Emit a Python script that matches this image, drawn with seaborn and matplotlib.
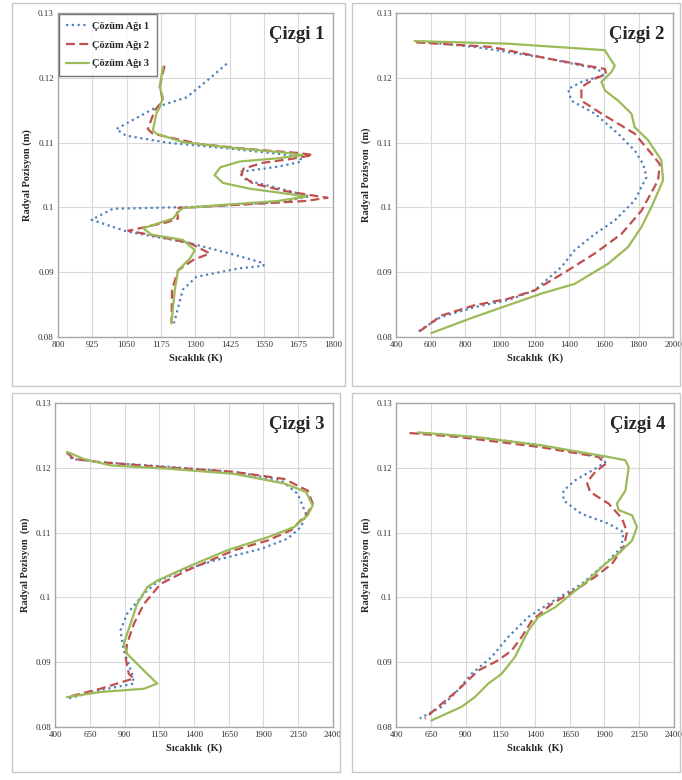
import pandas as pd
import matplotlib.pyplot as plt
from matplotlib.patches import Rectangle
import seaborn as sns

# ==========================================================
# Data
# ==========================================================

SERIES = ["Çözüm Ağı 1", "Çözüm Ağı 2", "Çözüm Ağı 3"]
COLORS = ["#4F81BD", "#C0504D", "#9BBB59"]

# Çizgi 1
P1_T1 = [1414, 1340, 1267, 1158, 1050, 1012, 1048, 1200, 1400, 1600, 1679, 1687, 1600,
         1461, 1486, 1600, 1716, 1600, 1300, 1000, 922, 1050, 1280, 1450, 1548, 1548,
         1460, 1304, 1254, 1225, 1222]
P1_R1 = [0.1222, 0.1195, 0.1170, 0.1155, 0.1130, 0.1121, 0.1111, 0.1100, 0.1092, 0.1083,
         0.1078, 0.1071, 0.1063, 0.1055, 0.1042, 0.1030, 0.1017, 0.1008, 0.1001, 0.0998,
         0.0981, 0.0963, 0.0945, 0.0926, 0.0914, 0.0910, 0.0906, 0.0893, 0.0873, 0.0826,
         0.0821]
P1_T2 = [1188, 1170, 1182, 1152, 1127, 1145, 1315, 1500, 1680, 1727, 1650, 1545, 1475,
         1467, 1510, 1631, 1781, 1700, 1450, 1231, 1237, 1195, 1056, 1134, 1280, 1352,
         1292, 1237, 1215, 1213]
P1_R2 = [0.1219, 0.1186, 0.1165, 0.1150, 0.1121, 0.1114, 0.1098, 0.1090, 0.1084, 0.1081,
         0.1075, 0.1069, 0.1060, 0.1050, 0.1037, 0.1025, 0.1015, 0.1010, 0.1004, 0.0999,
         0.0983, 0.0977, 0.0964, 0.0958, 0.0945, 0.0929, 0.0919, 0.0903, 0.0873, 0.0821]
P1_T3 = [1182, 1170, 1182, 1170, 1158, 1145, 1158, 1255, 1436, 1620, 1691, 1600, 1461,
         1390, 1370, 1400, 1498, 1620, 1704, 1600, 1400, 1254, 1237, 1219, 1110, 1140,
         1254, 1298, 1280, 1237, 1225, 1213]
P1_R3 = [0.1217, 0.1186, 0.1170, 0.1155, 0.1145, 0.1119, 0.1114, 0.1101, 0.1092, 0.1085,
         0.1081, 0.1076, 0.1071, 0.1062, 0.1050, 0.1038, 0.1029, 0.1022, 0.1017, 0.1010,
         0.1004, 0.0999, 0.0993, 0.0983, 0.0968, 0.0958, 0.0950, 0.0934, 0.0921, 0.0903,
         0.0873, 0.0821]

# Çizgi 2
P2_T1 = [516, 853, 1239, 1566, 1595, 1471, 1393, 1412, 1547, 1682, 1778, 1827, 1846,
         1778, 1663, 1547, 1431, 1354, 1200, 1046, 853, 660, 564, 516]
P2_R1 = [0.1257, 0.1248, 0.1232, 0.1214, 0.1204, 0.1194, 0.1183, 0.1165, 0.1145, 0.1114,
         0.1088, 0.1067, 0.1047, 0.1011, 0.0980, 0.0959, 0.0934, 0.0908, 0.0872, 0.0857,
         0.0846, 0.0831, 0.0815, 0.0806]
P2_T2 = [516, 949, 1277, 1605, 1614, 1547, 1470, 1470, 1586, 1778, 1875, 1923, 1913,
         1817, 1701, 1547, 1393, 1200, 1046, 853, 660, 516]
P2_R2 = [0.1255, 0.1248, 0.1230, 0.1214, 0.1206, 0.1199, 0.1186, 0.1165, 0.1145, 0.1114,
         0.1083, 0.1067, 0.1042, 0.0995, 0.0959, 0.0929, 0.0903, 0.0872, 0.0859, 0.0849,
         0.0833, 0.0805]
P2_T3 = [506, 1046, 1605, 1624, 1663, 1643, 1586, 1605, 1682, 1759, 1778, 1855, 1932,
         1942, 1875, 1817, 1740, 1624, 1431, 1239, 1046, 853, 602]
P2_R3 = [0.1257, 0.1253, 0.1243, 0.1235, 0.1219, 0.1209, 0.1194, 0.1181, 0.1165, 0.1145,
         0.1124, 0.1104, 0.1073, 0.1042, 0.1001, 0.0970, 0.0939, 0.0913, 0.0882, 0.0867,
         0.0849, 0.0831, 0.0806]

# Çizgi 3
P3_T1 = [484, 520, 725, 1207, 1689, 2027, 2147, 2207, 2171, 2075, 1882, 1545, 1280,
         1135, 1039, 918, 870, 894, 954, 966, 725, 496]
P3_R1 = [0.1224, 0.1214, 0.1209, 0.1202, 0.1194, 0.1181, 0.1160, 0.1129, 0.1109, 0.1091,
         0.1075, 0.1057, 0.1039, 0.1024, 0.1006, 0.0975, 0.0949, 0.0918, 0.0882, 0.0867,
         0.0857, 0.0844]
P3_T2 = [484, 533, 725, 1207, 1689, 2051, 2219, 2255, 2219, 2099, 1930, 1689, 1352,
         1159, 1039, 966, 918, 906, 930, 966, 725, 484]
P3_R2 = [0.1224, 0.1214, 0.1209, 0.1201, 0.1194, 0.1183, 0.1165, 0.1145, 0.1130, 0.1104,
         0.1088, 0.1073, 0.1042, 0.1021, 0.0990, 0.0959, 0.0929, 0.0908, 0.0882, 0.0875,
         0.0859, 0.0846]
P3_T3 = [484, 605, 798, 1207, 1689, 2051, 2207, 2255, 2219, 2123, 1930, 1641, 1352,
         1135, 1063, 990, 942, 894, 918, 1063, 1135, 1039, 725, 484]
P3_R3 = [0.1225, 0.1214, 0.1204, 0.1199, 0.1191, 0.1176, 0.1163, 0.1142, 0.1127, 0.1109,
         0.1093, 0.1073, 0.1047, 0.1026, 0.1016, 0.0990, 0.0959, 0.0929, 0.0913, 0.0882,
         0.0867, 0.0859, 0.0854, 0.0846]

# Çizgi 4
P4_T1 = [557, 966, 1448, 1882, 1906, 1834, 1689, 1605, 1605, 1737, 1930, 2036, 2024,
         1906, 1737, 1496, 1352, 1207, 1087, 942, 845, 725, 569]
P4_R1 = [0.1254, 0.1248, 0.1235, 0.1217, 0.1209, 0.1199, 0.1181, 0.1165, 0.1150, 0.1129,
         0.1114, 0.1101, 0.1078, 0.1052, 0.1021, 0.0990, 0.0970, 0.0939, 0.0908, 0.0882,
         0.0857, 0.0831, 0.0813]
P4_T2 = [496, 846, 1448, 1858, 1906, 1834, 1773, 1797, 1930, 2027, 2063, 2039, 1954,
         1834, 1689, 1520, 1376, 1304, 1231, 1135, 990, 845, 701, 605]
P4_R2 = [0.1254, 0.1248, 0.1232, 0.1217, 0.1206, 0.1194, 0.1178, 0.1163, 0.1145, 0.1122,
         0.1101, 0.1078, 0.1052, 0.1032, 0.1011, 0.0990, 0.0964, 0.0939, 0.0918, 0.0903,
         0.0887, 0.0857, 0.0831, 0.0813]
P4_T3 = [557, 966, 1448, 1930, 2051, 2075, 2051, 1990, 2002, 2099, 2135, 2099, 2002,
         1906, 1785, 1665, 1545, 1424, 1352, 1255, 1159, 1063, 966, 870, 653]
P4_R3 = [0.1255, 0.1248, 0.1235, 0.1217, 0.1212, 0.1201, 0.1165, 0.1145, 0.1135, 0.1127,
         0.1109, 0.1088, 0.1068, 0.1052, 0.1027, 0.1006, 0.0985, 0.0970, 0.0949, 0.0908,
         0.0882, 0.0867, 0.0846, 0.0831, 0.0810]

PANELS = [
    ("Çizgi 1", [(P1_T1, P1_R1), (P1_T2, P1_R2), (P1_T3, P1_R3)],
     [800, 925, 1050, 1175, 1300, 1425, 1550, 1675, 1800]),
    ("Çizgi 2", [(P2_T1, P2_R1), (P2_T2, P2_R2), (P2_T3, P2_R3)],
     [400, 600, 800, 1000, 1200, 1400, 1600, 1800, 2000]),
    ("Çizgi 3", [(P3_T1, P3_R1), (P3_T2, P3_R2), (P3_T3, P3_R3)],
     [400, 650, 900, 1150, 1400, 1650, 1900, 2150, 2400]),
    ("Çizgi 4", [(P4_T1, P4_R1), (P4_T2, P4_R2), (P4_T3, P4_R3)],
     [400, 650, 900, 1150, 1400, 1650, 1900, 2150, 2400]),
]

Y_TICKS = [0.08, 0.09, 0.10, 0.11, 0.12, 0.13]
Y_LABELS = ["0.08", "0.09", "0.1", "0.11", "0.12", "0.13"]

X_LABELS = ["Sıcaklık (K)", "Sıcaklık  (K)", "Sıcaklık  (K)", "Sıcaklık  (K)"]
Y_LABELS_AX = ["Radyal Pozisyon (m)", "Radyal Pozisyon  (m)",
               "Radyal Pozisyon  (m)", "Radyal Pozisyon  (m)"]

# ==========================================================
# Figure
# ==========================================================

sns.set_style("white")
plt.rcParams["font.family"] = ["Liberation Serif", "DejaVu Serif"]

fig = plt.figure(figsize=(6.82, 7.80), dpi=100)

AX_POS = [
    [0.085, 0.568, 0.403, 0.415],
    [0.581, 0.568, 0.406, 0.415],
    [0.081, 0.068, 0.407, 0.415],
    [0.581, 0.068, 0.407, 0.415],
]
FRAMES = [
    [12 / 682, 1 - 386 / 780, 333 / 682, 383 / 780],
    [352 / 682, 1 - 386 / 780, 328 / 682, 383 / 780],
    [12 / 682, 1 - 772 / 780, 328 / 682, 379 / 780],
    [352 / 682, 1 - 772 / 780, 328 / 682, 379 / 780],
]

for fr in FRAMES:
    fig.patches.append(Rectangle((fr[0], fr[1]), fr[2], fr[3], transform=fig.transFigure,
                                 fill=False, edgecolor="#c8c8c8", linewidth=1.0))

dashes = {SERIES[0]: (1, 1.6), SERIES[1]: (4, 2), SERIES[2]: ""}
palette = dict(zip(SERIES, COLORS))

for i, (title, series, xticks) in enumerate(PANELS):
    ax = fig.add_axes(AX_POS[i])

    rows = []
    for name, (temps, rads) in zip(SERIES, series):
        for k, (t, r) in enumerate(zip(temps, rads)):
            rows.append({"T": t, "R": r, "Seri": name, "k": k})
    df = pd.DataFrame(rows)

    sns.lineplot(data=df, x="T", y="R", hue="Seri", style="Seri", units="Seri",
                 estimator=None, sort=False, palette=palette, dashes=dashes,
                 linewidth=1.6, ax=ax, legend=(i == 0))

    ax.set_xlim(xticks[0], xticks[-1])
    ax.set_ylim(0.08, 0.13)
    ax.set_xticks(xticks)
    ax.set_xticklabels([str(v) for v in xticks])
    ax.set_yticks(Y_TICKS)
    ax.set_yticklabels(Y_LABELS)
    ax.tick_params(labelsize=6.5, colors="#333333", length=0, pad=3)
    ax.grid(True, color="#d9d9d9", linewidth=0.8)
    for s in ax.spines.values():
        s.set_color("#a6a6a6")
        s.set_linewidth(1.0)

    ax.set_xlabel(X_LABELS[i], fontsize=7.5, fontweight="bold", labelpad=3)
    ax.set_ylabel(Y_LABELS_AX[i], fontsize=7.5, fontweight="bold", labelpad=4)

    ax.text(0.97, 0.96, title, transform=ax.transAxes, ha="right", va="top",
            fontsize=13.5, fontweight="bold")

    if i == 0:
        handles, labels = ax.get_legend_handles_labels()
        leg = ax.legend(handles, labels, loc="upper left", bbox_to_anchor=(0.0, 1.0),
                        prop={"size": 7.5, "weight": "bold"}, frameon=True,
                        fancybox=False, handlelength=2.2, handletextpad=0.3,
                        labelspacing=0.9, borderpad=0.7, borderaxespad=0.1)
        leg.get_frame().set_edgecolor("#555555")
        leg.get_frame().set_linewidth(1.0)

fig.savefig("out.png", dpi=100)
